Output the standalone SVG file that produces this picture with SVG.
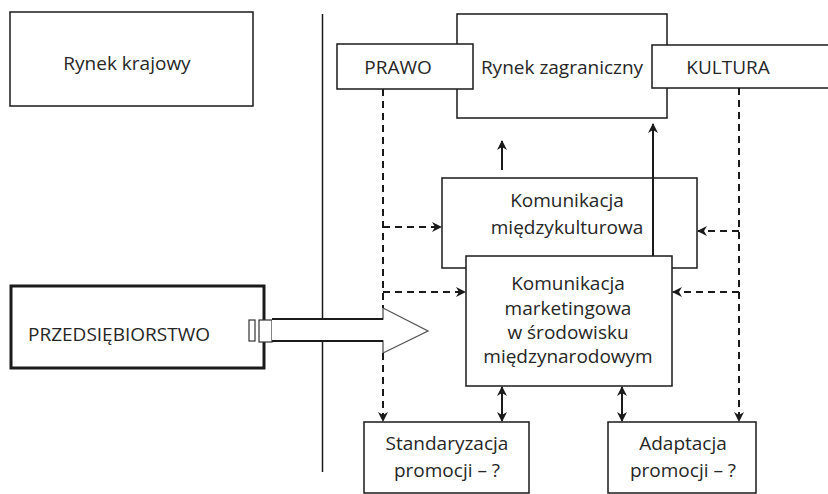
<svg xmlns="http://www.w3.org/2000/svg" width="828" height="494" viewBox="0 0 828 494">
<style>
.box{fill:#fff;stroke:#1a1a1a;stroke-width:1.5}
.t{font-family:"Open Sans","Liberation Sans",sans-serif;font-size:19px;fill:#262626;text-anchor:middle}
.dash{fill:none;stroke:#1a1a1a;stroke-width:2;stroke-dasharray:7 5}
.solid{fill:none;stroke:#1a1a1a;stroke-width:2}
</style>
<defs>
<marker id="ah" viewBox="0 0 10 10" refX="9" refY="5" markerWidth="5" markerHeight="5" orient="auto-start-reverse" markerUnits="strokeWidth">
<path d="M0,0 L10,5 L0,10 L3,5 z" fill="#1a1a1a"/>
</marker>
</defs>
<rect width="828" height="494" fill="#fff"/>
<line x1="322.5" y1="14" x2="322.5" y2="472" stroke="#1a1a1a" stroke-width="1.5"/>
<g id="rynek-krajowy">
<rect class="box" x="10" y="12" width="243" height="94"/>
<text class="t" x="127" y="70">Rynek krajowy</text>
</g>
<g id="rynek-zagraniczny">
<rect class="box" x="457" y="14" width="210" height="104"/>
<text class="t" x="562" y="74">Rynek zagraniczny</text>
</g>
<g id="prawo">
<rect class="box" x="337" y="44" width="136" height="45"/>
<text class="t" x="398" y="74">PRAWO</text>
</g>
<g id="kultura">
<rect class="box" x="652" y="45" width="180" height="43"/>
<text class="t" x="728" y="74">KULTURA</text>
</g>
<g id="kom-miedzykulturowa">
<rect class="box" x="442" y="178" width="255" height="90"/>
<text class="t" x="567" y="207">Komunikacja</text>
<text class="t" x="567" y="234">międzykulturowa</text>
</g>
<g id="kom-marketingowa">
<rect class="box" x="466" y="256" width="206" height="130"/>
<text class="t" x="568" y="290">Komunikacja</text>
<text class="t" x="568" y="315">marketingowa</text>
<text class="t" x="568" y="339">w środowisku</text>
<text class="t" x="568" y="363">międzynarodowym</text>
</g>
<g id="standaryzacja">
<rect class="box" x="364" y="422" width="165" height="71" stroke-width="1.2"/>
<text class="t" x="447" y="450">Standaryzacja</text>
<text class="t" x="447" y="477">promocji – ?</text>
</g>
<g id="adaptacja">
<rect class="box" x="608" y="422" width="148" height="71" stroke-width="1.2"/>
<text class="t" x="683" y="450">Adaptacja</text>
<text class="t" x="683" y="477">promocji – ?</text>
</g>
<g id="przedsiebiorstwo">
<rect x="11" y="286" width="253" height="82" fill="#fff" stroke="#1a1a1a" stroke-width="3"/>
<text class="t" x="119" y="341">PRZEDSIĘBIORSTWO</text>
<rect x="249" y="320" width="6" height="21" fill="#fff" stroke="#333" stroke-width="1.2"/>
<rect x="259" y="320" width="13" height="22" fill="#fff" stroke="#333" stroke-width="1.2"/>
</g>
<g id="connectors">
<path d="M272,319 L383,319 L383,308 L428,331 L383,353 L383,341 L272,341" fill="#fff" stroke="#555" stroke-width="1.3"/>
<line x1="272" y1="319" x2="383" y2="319" stroke="#1a1a1a" stroke-width="2"/>
<line x1="272" y1="341" x2="383" y2="341" stroke="#1a1a1a" stroke-width="2"/>
<line class="dash" x1="383" y1="89" x2="383" y2="308"/>
<line class="dash" x1="383" y1="353" x2="383" y2="421" marker-end="url(#ah)"/>
<line class="dash" x1="739" y1="88" x2="739" y2="421" marker-end="url(#ah)"/>
<line class="dash" x1="383" y1="227" x2="441" y2="227" marker-end="url(#ah)"/>
<line class="dash" x1="383" y1="292" x2="465" y2="292" marker-end="url(#ah)"/>
<line class="dash" x1="739" y1="231" x2="698" y2="231" marker-end="url(#ah)"/>
<line class="dash" x1="739" y1="292" x2="673" y2="292" marker-end="url(#ah)"/>
<line class="solid" x1="502" y1="170" x2="502" y2="141" marker-end="url(#ah)"/>
<line class="solid" x1="653" y1="256" x2="653" y2="124" marker-end="url(#ah)"/>
<line class="solid" x1="502" y1="387" x2="502" y2="421" marker-start="url(#ah)" marker-end="url(#ah)"/>
<line class="solid" x1="622" y1="387" x2="622" y2="421" marker-start="url(#ah)" marker-end="url(#ah)"/>
</g>
</svg>
